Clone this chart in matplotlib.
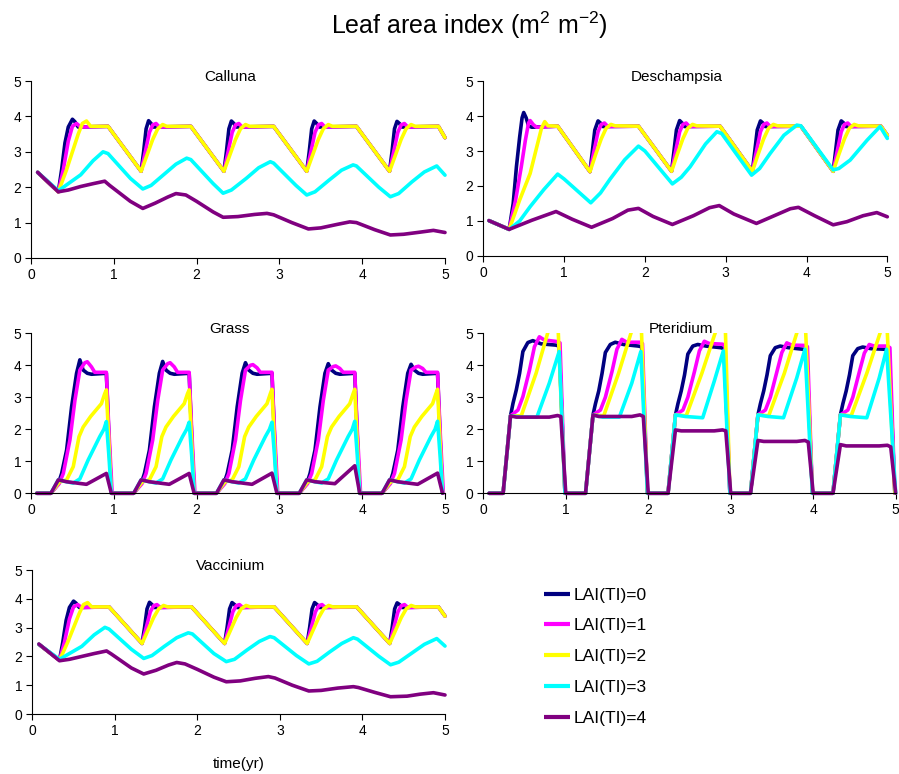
import matplotlib.pyplot as plt
from matplotlib.transforms import Bbox, TransformedBbox

plt.rcParams['font.family'] = ['Liberation Sans', 'DejaVu Sans']
plt.rcParams['mathtext.fontset'] = 'custom'
plt.rcParams['mathtext.rm'] = 'Liberation Sans'
plt.rcParams['mathtext.it'] = 'Liberation Sans:italic'

# series: (time in yr, leaf area index)
labels = ['LAI(TI)=0', 'LAI(TI)=1', 'LAI(TI)=2', 'LAI(TI)=3', 'LAI(TI)=4']
colors = ['#000080', '#FF00FF', '#FFFF00', '#00FFFF', '#800080']
ticks = [0, 1, 2, 3, 4, 5]

# Calluna
cal_0 = [(0.08, 2.42), (0.33, 1.87), (0.37, 2.5), (0.41, 3.25), (0.45, 3.7), (0.5, 3.92), (0.53, 3.85), (0.57, 3.7), (0.93, 3.72),
         (1.33, 2.45), (1.36, 3.0), (1.39, 3.65), (1.42, 3.88), (1.45, 3.8), (1.48, 3.7), (1.93, 3.72),
         (2.33, 2.45), (2.36, 3.0), (2.39, 3.65), (2.42, 3.87), (2.45, 3.8), (2.48, 3.7), (2.93, 3.72),
         (3.33, 2.45), (3.36, 3.0), (3.39, 3.65), (3.42, 3.87), (3.45, 3.8), (3.48, 3.7), (3.93, 3.72),
         (4.33, 2.45), (4.36, 3.0), (4.39, 3.65), (4.42, 3.86), (4.45, 3.8), (4.48, 3.7), (4.92, 3.72), (5.0, 3.4)]
cal_1 = [(0.08, 2.42), (0.33, 1.87), (0.39, 2.5), (0.45, 3.3), (0.5, 3.72), (0.55, 3.8), (0.6, 3.7), (0.93, 3.72),
         (1.33, 2.45), (1.38, 3.0), (1.43, 3.55), (1.47, 3.76), (1.51, 3.8), (1.55, 3.7), (1.93, 3.72),
         (2.33, 2.45), (2.38, 3.0), (2.43, 3.55), (2.47, 3.76), (2.51, 3.8), (2.55, 3.7), (2.93, 3.72),
         (3.33, 2.45), (3.38, 3.0), (3.43, 3.55), (3.47, 3.76), (3.51, 3.8), (3.55, 3.7), (3.93, 3.72),
         (4.33, 2.45), (4.38, 3.0), (4.43, 3.55), (4.47, 3.76), (4.51, 3.8), (4.55, 3.7), (4.92, 3.72), (5.0, 3.4)]
cal_2 = [(0.08, 2.42), (0.33, 1.87), (0.43, 2.5), (0.5, 3.0), (0.57, 3.5), (0.62, 3.8), (0.67, 3.87), (0.72, 3.72), (0.93, 3.72),
         (1.33, 2.45), (1.4, 2.9), (1.47, 3.35), (1.53, 3.65), (1.59, 3.77), (1.64, 3.72), (1.93, 3.72),
         (2.33, 2.45), (2.4, 2.9), (2.47, 3.35), (2.53, 3.65), (2.59, 3.77), (2.64, 3.72), (2.93, 3.72),
         (3.33, 2.45), (3.4, 2.9), (3.47, 3.35), (3.53, 3.65), (3.59, 3.77), (3.64, 3.72), (3.93, 3.72),
         (4.33, 2.45), (4.4, 2.9), (4.47, 3.35), (4.53, 3.65), (4.59, 3.77), (4.64, 3.72), (4.92, 3.72), (5.0, 3.4)]
cal_3 = [(0.08, 2.42), (0.33, 1.9), (0.45, 2.1), (0.6, 2.35), (0.75, 2.75), (0.87, 3.0), (0.93, 2.95), (1.2, 2.25), (1.35, 1.95),
         (1.45, 2.05), (1.6, 2.35), (1.75, 2.65), (1.88, 2.82), (1.93, 2.78), (2.2, 2.1), (2.32, 1.83),
         (2.42, 1.92), (2.6, 2.25), (2.75, 2.55), (2.89, 2.72), (2.93, 2.68), (3.2, 2.05), (3.33, 1.78),
         (3.43, 1.87), (3.6, 2.2), (3.75, 2.48), (3.89, 2.63), (3.93, 2.6), (4.2, 2.0), (4.34, 1.73),
         (4.44, 1.82), (4.6, 2.15), (4.75, 2.43), (4.9, 2.6), (5.0, 2.34)]
cal_4 = [(0.08, 2.42), (0.33, 1.87), (0.45, 1.92), (0.6, 2.02), (0.75, 2.1), (0.89, 2.17), (0.95, 2.05), (1.2, 1.6), (1.35, 1.4),
         (1.5, 1.55), (1.65, 1.72), (1.75, 1.82), (1.87, 1.78), (2.0, 1.6), (2.2, 1.3), (2.32, 1.15),
         (2.5, 1.17), (2.7, 1.23), (2.85, 1.26), (2.93, 1.22), (3.15, 1.0), (3.35, 0.82),
         (3.5, 0.85), (3.7, 0.95), (3.85, 1.02), (3.93, 1.0), (4.15, 0.8), (4.34, 0.65),
         (4.5, 0.67), (4.7, 0.73), (4.86, 0.78), (5.0, 0.72)]

# Deschampsia
des_0 = [(0.07, 1.01), (0.32, 0.76), (0.37, 1.5), (0.41, 2.55), (0.45, 3.4), (0.48, 3.95), (0.5, 4.1), (0.53, 3.95), (0.56, 3.72), (0.6, 3.68), (0.92, 3.71),
         (1.32, 2.41), (1.35, 3.0), (1.38, 3.6), (1.42, 3.86), (1.45, 3.8), (1.48, 3.7), (1.92, 3.71),
         (2.33, 2.42), (2.36, 3.0), (2.39, 3.6), (2.43, 3.87), (2.46, 3.8), (2.49, 3.7), (2.93, 3.71),
         (3.33, 2.42), (3.36, 3.0), (3.39, 3.6), (3.43, 3.86), (3.46, 3.8), (3.49, 3.7), (3.93, 3.71),
         (4.33, 2.42), (4.36, 3.0), (4.39, 3.6), (4.43, 3.86), (4.46, 3.8), (4.49, 3.7), (4.92, 3.71), (5.0, 3.45)]
des_1 = [(0.07, 1.01), (0.32, 0.76), (0.4, 1.6), (0.47, 2.55), (0.52, 3.3), (0.56, 3.8), (0.58, 3.87), (0.62, 3.75), (0.66, 3.68), (0.92, 3.71),
         (1.32, 2.41), (1.37, 3.0), (1.42, 3.55), (1.46, 3.76), (1.5, 3.8), (1.54, 3.7), (1.92, 3.71),
         (2.33, 2.42), (2.38, 3.0), (2.43, 3.55), (2.47, 3.76), (2.51, 3.8), (2.55, 3.7), (2.93, 3.71),
         (3.33, 2.42), (3.38, 3.0), (3.43, 3.55), (3.47, 3.76), (3.51, 3.8), (3.55, 3.7), (3.93, 3.71),
         (4.33, 2.42), (4.38, 3.0), (4.43, 3.55), (4.47, 3.76), (4.51, 3.8), (4.55, 3.7), (4.92, 3.71), (5.0, 3.45)]
des_2 = [(0.07, 1.01), (0.32, 0.76), (0.45, 1.6), (0.58, 2.36), (0.66, 3.1), (0.72, 3.65), (0.76, 3.84), (0.8, 3.72), (0.92, 3.71),
         (1.32, 2.41), (1.39, 2.9), (1.46, 3.35), (1.52, 3.65), (1.58, 3.76), (1.63, 3.72), (1.92, 3.71),
         (2.33, 2.42), (2.4, 2.9), (2.47, 3.35), (2.53, 3.65), (2.59, 3.76), (2.64, 3.72), (2.93, 3.71),
         (3.33, 2.42), (3.4, 2.9), (3.47, 3.35), (3.53, 3.65), (3.59, 3.76), (3.64, 3.72), (3.93, 3.71),
         (4.33, 2.42), (4.4, 2.9), (4.47, 3.35), (4.53, 3.65), (4.59, 3.76), (4.64, 3.72), (4.92, 3.71), (5.0, 3.45)]
des_3 = [(0.07, 1.01), (0.32, 0.76), (0.45, 1.0), (0.58, 1.41), (0.75, 1.9), (0.92, 2.34), (1.0, 2.2), (1.33, 1.52),
         (1.45, 1.8), (1.57, 2.2), (1.75, 2.75), (1.92, 3.14), (2.0, 3.0), (2.34, 2.06),
         (2.45, 2.25), (2.56, 2.55), (2.75, 3.2), (2.89, 3.55), (2.95, 3.5), (3.32, 2.31),
         (3.42, 2.5), (3.55, 2.93), (3.72, 3.45), (3.88, 3.74), (3.93, 3.72), (4.33, 2.46),
         (4.4, 2.5), (4.54, 2.74), (4.75, 3.31), (4.91, 3.7), (5.0, 3.36)]
des_4 = [(0.07, 1.01), (0.32, 0.76), (0.6, 1.02), (0.9, 1.27), (1.1, 1.05), (1.34, 0.82),
         (1.6, 1.07), (1.79, 1.31), (1.92, 1.36), (2.1, 1.13), (2.34, 0.9),
         (2.6, 1.15), (2.8, 1.38), (2.92, 1.44), (3.1, 1.2), (3.38, 0.93),
         (3.6, 1.15), (3.8, 1.35), (3.9, 1.39), (4.1, 1.15), (4.33, 0.89),
         (4.5, 0.98), (4.7, 1.15), (4.87, 1.24), (5.0, 1.12)]

# Grass
gra_0 = [(0.07, 0), (0.24, 0), (0.33, 0.3), (0.37, 0.62), (0.43, 1.35), (0.49, 2.7), (0.55, 3.75), (0.59, 4.17), (0.63, 3.85), (0.68, 3.75), (0.73, 3.72), (0.91, 3.75), (0.94, 1.8), (0.97, 0),
         (1.24, 0), (1.33, 0.3), (1.37, 0.62), (1.43, 1.35), (1.49, 2.7), (1.55, 3.75), (1.59, 4.12), (1.63, 3.85), (1.68, 3.75), (1.73, 3.72), (1.91, 3.75), (1.94, 1.8), (1.97, 0),
         (2.24, 0), (2.33, 0.3), (2.37, 0.62), (2.43, 1.35), (2.49, 2.7), (2.55, 3.75), (2.59, 4.08), (2.63, 3.85), (2.68, 3.75), (2.73, 3.72), (2.91, 3.75), (2.94, 1.8), (2.97, 0),
         (3.24, 0), (3.33, 0.3), (3.37, 0.62), (3.43, 1.35), (3.49, 2.7), (3.55, 3.75), (3.59, 4.05), (3.63, 3.85), (3.68, 3.75), (3.73, 3.72), (3.91, 3.75), (3.94, 1.8), (3.97, 0),
         (4.24, 0), (4.33, 0.3), (4.37, 0.62), (4.43, 1.35), (4.49, 2.7), (4.55, 3.75), (4.59, 4.03), (4.63, 3.85), (4.68, 3.75), (4.73, 3.72), (4.91, 3.75), (4.94, 1.8), (4.97, 0)]
gra_1 = [(0.07, 0), (0.24, 0), (0.34, 0.3), (0.39, 0.62), (0.47, 1.67), (0.53, 2.9), (0.59, 3.85), (0.65, 4.08), (0.68, 4.11), (0.73, 3.95), (0.77, 3.78), (0.91, 3.78), (0.94, 2.0), (0.98, 0),
         (1.24, 0), (1.34, 0.3), (1.39, 0.62), (1.47, 1.67), (1.53, 2.9), (1.59, 3.85), (1.65, 4.05), (1.68, 4.08), (1.73, 3.95), (1.77, 3.78), (1.91, 3.78), (1.94, 2.0), (1.98, 0),
         (2.24, 0), (2.34, 0.3), (2.39, 0.62), (2.47, 1.67), (2.53, 2.9), (2.59, 3.85), (2.65, 4.0), (2.68, 4.02), (2.73, 3.92), (2.77, 3.78), (2.91, 3.78), (2.94, 2.0), (2.98, 0),
         (3.24, 0), (3.34, 0.3), (3.39, 0.62), (3.47, 1.67), (3.53, 2.9), (3.59, 3.85), (3.65, 3.96), (3.68, 3.98), (3.73, 3.9), (3.77, 3.78), (3.91, 3.78), (3.94, 2.0), (3.98, 0),
         (4.24, 0), (4.34, 0.3), (4.39, 0.62), (4.47, 1.67), (4.53, 2.9), (4.59, 3.85), (4.65, 3.95), (4.68, 3.97), (4.73, 3.9), (4.77, 3.78), (4.91, 3.78), (4.94, 2.0), (4.98, 0)]
gra_2 = [(0.07, 0), (0.24, 0), (0.34, 0.35), (0.43, 0.42), (0.51, 0.83), (0.58, 1.77), (0.63, 2.07), (0.72, 2.4), (0.85, 2.8), (0.89, 3.11), (0.91, 3.23), (0.94, 1.6), (0.97, 0),
         (1.24, 0), (1.34, 0.35), (1.43, 0.42), (1.51, 0.83), (1.58, 1.77), (1.63, 2.07), (1.72, 2.4), (1.85, 2.8), (1.89, 3.11), (1.91, 3.23), (1.94, 1.6), (1.97, 0),
         (2.24, 0), (2.34, 0.35), (2.43, 0.42), (2.51, 0.83), (2.58, 1.77), (2.63, 2.07), (2.72, 2.4), (2.85, 2.8), (2.89, 3.11), (2.91, 3.25), (2.94, 1.6), (2.97, 0),
         (3.24, 0), (3.34, 0.35), (3.43, 0.42), (3.51, 0.83), (3.58, 1.77), (3.63, 2.07), (3.72, 2.4), (3.85, 2.8), (3.89, 3.11), (3.91, 3.25), (3.94, 1.6), (3.97, 0),
         (4.24, 0), (4.34, 0.35), (4.43, 0.42), (4.51, 0.83), (4.58, 1.77), (4.63, 2.07), (4.72, 2.4), (4.85, 2.8), (4.89, 3.11), (4.91, 3.25), (4.94, 1.6), (4.97, 0)]
gra_3 = [(0.07, 0), (0.24, 0), (0.33, 0.42), (0.43, 0.36), (0.51, 0.32), (0.59, 0.45), (0.69, 1.04), (0.83, 1.77), (0.88, 2.0), (0.91, 2.24), (0.94, 1.2), (0.97, 0),
         (1.24, 0), (1.33, 0.42), (1.43, 0.36), (1.51, 0.32), (1.59, 0.45), (1.69, 1.04), (1.83, 1.77), (1.88, 2.0), (1.91, 2.22), (1.94, 1.2), (1.97, 0),
         (2.24, 0), (2.33, 0.42), (2.43, 0.36), (2.51, 0.32), (2.59, 0.45), (2.69, 1.04), (2.83, 1.77), (2.88, 2.0), (2.91, 2.22), (2.94, 1.2), (2.97, 0),
         (3.24, 0), (3.33, 0.42), (3.43, 0.36), (3.51, 0.32), (3.59, 0.45), (3.69, 1.04), (3.83, 1.77), (3.88, 2.0), (3.91, 2.25), (3.94, 1.2), (3.97, 0),
         (4.24, 0), (4.33, 0.42), (4.43, 0.36), (4.51, 0.32), (4.59, 0.45), (4.69, 1.04), (4.83, 1.77), (4.88, 2.0), (4.91, 2.25), (4.94, 1.2), (4.97, 0)]
gra_4 = [(0.07, 0), (0.24, 0), (0.33, 0.42), (0.43, 0.36), (0.67, 0.28), (0.91, 0.62), (0.97, 0),
         (1.24, 0), (1.33, 0.42), (1.43, 0.36), (1.67, 0.28), (1.91, 0.62), (1.97, 0),
         (2.24, 0), (2.33, 0.42), (2.43, 0.36), (2.67, 0.28), (2.91, 0.63), (2.97, 0),
         (3.24, 0), (3.33, 0.42), (3.43, 0.36), (3.67, 0.3), (3.91, 0.86), (3.97, 0),
         (4.24, 0), (4.33, 0.42), (4.43, 0.36), (4.67, 0.28), (4.91, 0.63), (4.97, 0)]

# Pteridium
pte_0 = [(0.07, 0), (0.24, 0), (0.33, 2.42), (0.36, 2.81), (0.4, 3.23), (0.44, 3.75), (0.48, 4.43), (0.54, 4.71), (0.6, 4.77), (0.7, 4.67), (0.88, 4.63), (0.92, 4.6), (0.99, 0),
         (1.24, 0), (1.33, 2.45), (1.36, 2.8), (1.4, 3.2), (1.44, 3.75), (1.48, 4.4), (1.54, 4.65), (1.6, 4.72), (1.7, 4.65), (1.88, 4.6), (1.92, 4.58), (1.99, 0),
         (2.24, 0), (2.33, 2.45), (2.36, 2.8), (2.4, 3.2), (2.44, 3.7), (2.48, 4.35), (2.54, 4.6), (2.6, 4.65), (2.7, 4.6), (2.88, 4.55), (2.92, 4.52), (2.99, 0),
         (3.24, 0), (3.33, 2.45), (3.36, 2.8), (3.4, 3.2), (3.44, 3.7), (3.48, 4.3), (3.54, 4.55), (3.6, 4.6), (3.7, 4.55), (3.88, 4.5), (3.92, 4.48), (3.99, 0),
         (4.24, 0), (4.33, 2.45), (4.36, 2.8), (4.4, 3.2), (4.44, 3.7), (4.48, 4.3), (4.54, 4.52), (4.6, 4.57), (4.7, 4.52), (4.88, 4.5), (4.92, 4.48), (4.99, 0)]
pte_1 = [(0.07, 0), (0.24, 0), (0.33, 2.42), (0.42, 2.6), (0.48, 3.02), (0.56, 3.85), (0.62, 4.58), (0.68, 4.89), (0.74, 4.79), (0.9, 4.74), (0.93, 4.7), (0.99, 0),
         (1.24, 0), (1.33, 2.45), (1.42, 2.6), (1.48, 3.0), (1.56, 3.8), (1.62, 4.5), (1.68, 4.81), (1.74, 4.72), (1.9, 4.72), (1.93, 4.68), (1.99, 0),
         (2.24, 0), (2.33, 2.45), (2.42, 2.6), (2.48, 3.0), (2.56, 3.8), (2.62, 4.45), (2.68, 4.75), (2.74, 4.68), (2.9, 4.66), (2.93, 4.62), (2.99, 0),
         (3.24, 0), (3.33, 2.45), (3.42, 2.6), (3.48, 3.0), (3.56, 3.8), (3.62, 4.4), (3.68, 4.7), (3.74, 4.63), (3.9, 4.62), (3.93, 4.58), (3.99, 0),
         (4.24, 0), (4.33, 2.45), (4.42, 2.6), (4.48, 3.0), (4.56, 3.8), (4.62, 4.38), (4.68, 4.65), (4.74, 4.6), (4.9, 4.6), (4.93, 4.55), (4.99, 0)]
pte_2 = [(0.07, 0), (0.24, 0), (0.33, 2.42), (0.46, 2.42), (0.64, 3.75), (0.78, 5.0), (0.87, 5.7), (0.9, 5.6), (0.99, 0),
         (1.24, 0), (1.33, 2.45), (1.46, 2.42), (1.64, 3.75), (1.79, 5.0), (1.87, 5.7), (1.91, 5.6), (1.99, 0),
         (2.24, 0), (2.33, 2.45), (2.46, 2.42), (2.65, 3.75), (2.81, 5.0), (2.89, 5.6), (2.93, 5.6), (2.99, 0),
         (3.24, 0), (3.33, 2.45), (3.46, 2.42), (3.65, 3.75), (3.8, 5.0), (3.87, 5.6), (3.9, 5.6), (3.99, 0),
         (4.24, 0), (4.33, 2.45), (4.46, 2.42), (4.65, 3.75), (4.81, 5.0), (4.86, 5.5), (4.89, 5.5), (4.99, 0)]
pte_3 = [(0.07, 0), (0.24, 0), (0.33, 2.42), (0.45, 2.38), (0.65, 2.38), (0.8, 3.44), (0.92, 4.43), (0.99, 0),
         (1.24, 0), (1.33, 2.45), (1.45, 2.38), (1.65, 2.38), (1.8, 3.44), (1.91, 4.43), (1.99, 0),
         (2.24, 0), (2.33, 2.45), (2.45, 2.4), (2.66, 2.36), (2.8, 3.5), (2.91, 4.45), (2.99, 0),
         (3.24, 0), (3.33, 2.45), (3.45, 2.4), (3.64, 2.36), (3.8, 3.6), (3.9, 4.5), (3.99, 0),
         (4.24, 0), (4.33, 2.45), (4.45, 2.4), (4.65, 2.36), (4.8, 3.6), (4.89, 4.5), (5.0, 0)]
pte_4 = [(0.07, 0), (0.24, 0), (0.33, 2.42), (0.4, 2.38), (0.8, 2.38), (0.9, 2.43), (0.94, 2.4), (1.0, 0),
         (1.24, 0), (1.33, 2.45), (1.4, 2.4), (1.8, 2.4), (1.9, 2.45), (1.94, 2.4), (2.0, 0),
         (2.24, 0), (2.33, 1.98), (2.4, 1.95), (2.8, 1.95), (2.9, 1.98), (2.94, 1.95), (3.0, 0),
         (3.24, 0), (3.33, 1.65), (3.4, 1.62), (3.8, 1.62), (3.9, 1.65), (3.94, 1.6), (4.0, 0),
         (4.24, 0), (4.33, 1.52), (4.4, 1.48), (4.8, 1.48), (4.9, 1.5), (4.94, 1.45), (5.0, 0)]

# Vaccinium (top three series match Calluna)
vac_0 = cal_0
vac_1 = cal_1
vac_2 = cal_2
vac_3 = [(0.08, 2.42), (0.33, 1.9), (0.45, 2.1), (0.6, 2.35), (0.75, 2.75), (0.88, 3.01), (0.93, 2.95), (1.2, 2.25), (1.35, 1.93),
         (1.45, 2.03), (1.6, 2.35), (1.75, 2.65), (1.89, 2.82), (1.94, 2.78), (2.2, 2.1), (2.35, 1.82),
         (2.45, 1.9), (2.6, 2.22), (2.75, 2.52), (2.88, 2.69), (2.93, 2.65), (3.2, 2.03), (3.35, 1.74),
         (3.45, 1.83), (3.6, 2.15), (3.75, 2.45), (3.89, 2.65), (3.94, 2.6), (4.2, 2.0), (4.34, 1.71),
         (4.44, 1.8), (4.6, 2.12), (4.75, 2.42), (4.9, 2.62), (5.0, 2.36)]
vac_4 = [(0.08, 2.43), (0.33, 1.85), (0.45, 1.9), (0.6, 2.0), (0.75, 2.1), (0.9, 2.19), (0.96, 2.08), (1.2, 1.6), (1.35, 1.39),
         (1.5, 1.52), (1.65, 1.7), (1.75, 1.79), (1.85, 1.74), (2.0, 1.55), (2.2, 1.28), (2.35, 1.12),
         (2.52, 1.15), (2.7, 1.24), (2.86, 1.3), (2.94, 1.25), (3.15, 1.0), (3.35, 0.8),
         (3.5, 0.82), (3.7, 0.9), (3.89, 0.95), (3.95, 0.92), (4.15, 0.75), (4.34, 0.6),
         (4.54, 0.62), (4.7, 0.69), (4.86, 0.74), (5.0, 0.66)]

fig = plt.figure(figsize=(8.99, 7.74), dpi=100)


def panel(rect, series, name):
    ax = fig.add_axes(rect)
    clip = TransformedBbox(Bbox([[0, -0.03], [1.01, 1]]), ax.transAxes)
    for pts, c, lab in zip(series, colors, labels):
        t = [p[0] for p in pts]
        v = [p[1] for p in pts]
        ln, = ax.plot(t, v, color=c, lw=2.6, label=lab,
                      solid_joinstyle='round', solid_capstyle='round')
        ln.set_clip_box(clip)
    ax.set_xlim(0, 5)
    ax.set_ylim(0, 5)
    ax.set_xticks(ticks)
    ax.set_yticks(ticks)
    for s in ['top', 'right']:
        ax.spines[s].set_visible(False)
    for s in ['left', 'bottom']:
        ax.spines[s].set_linewidth(0.8)
    ax.tick_params(direction='out', length=4, width=0.8, labelsize=10, pad=3)
    ax.text(0.48, 1.025, name, transform=ax.transAxes, ha='center', va='center', fontsize=11)
    return ax


panel([0.0345, 0.6667, 0.4605, 0.2286], [cal_0, cal_1, cal_2, cal_3, cal_4], 'Calluna')
panel([0.5376, 0.6693, 0.4494, 0.2260], [des_0, des_1, des_2, des_3, des_4], 'Deschampsia')
panel([0.0345, 0.3627, 0.4605, 0.2067], [gra_0, gra_1, gra_2, gra_3, gra_4], 'Grass')
panel([0.5376, 0.3627, 0.4587, 0.2067], [pte_0, pte_1, pte_2, pte_3, pte_4], 'Pteridium')
ax = panel([0.0359, 0.0775, 0.4591, 0.1860], [vac_0, vac_1, vac_2, vac_3, vac_4], 'Vaccinium')
ax.set_xlabel('time(yr)', fontsize=11, labelpad=14)

handles, labs = ax.get_legend_handles_labels()
leg = fig.legend(handles, labs, loc='upper left', bbox_to_anchor=(0.605, 0.241),
                 frameon=False, fontsize=12.5, handlelength=1.5, handletextpad=0.2,
                 labelspacing=0.9, borderpad=0, borderaxespad=0)
for h in leg.get_lines():
    h.set_linewidth(3)
    h.set_solid_capstyle('butt')

fig.text(469 / 899, 1 - 25 / 774, 'Leaf area index (m$^{2}$ m$^{-2}$)',
         ha='center', va='center', fontsize=18)

fig.savefig('out.png', dpi=100)
